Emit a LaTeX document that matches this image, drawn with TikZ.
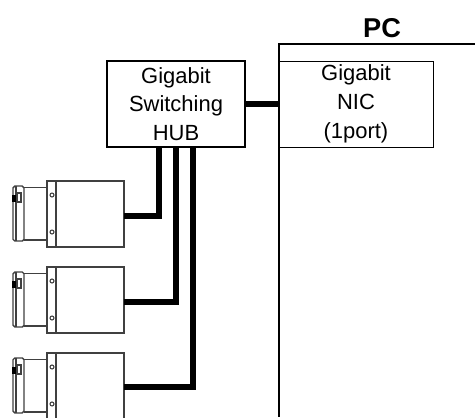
\documentclass[tikz,border=0pt]{standalone}
\usepackage{fontspec}
\setmainfont{Liberation Sans}
\usetikzlibrary{positioning}
\tikzset{font={\fontsize{12.5}{16.4}\selectfont}}
\tikzset{
	boxnode/.style={rectangle, draw, align=center, outer sep=0pt, minimum width=2.76cm, minimum height=1.72cm, inner sep=0pt},
	camnode/.style={rectangle, draw=black!75, line width=0.8pt, outer sep=0pt, minimum width=1.54cm, minimum height=1.32cm},
	cable/.style={line width=3.4pt, miter limit=10},
	outline/.style={line width=0.8pt}
}

\begin{document}
\begin{tikzpicture}[x=0.02cm, y=-0.02cm]

	\useasboundingbox (0,0) rectangle (475,417);
	\clip (0,0) rectangle (475,417);

	\node (hub) [boxnode, line width=0.8pt] at (176,104) {Gigabit\\Switching\\HUB};
	\node (nic) [boxnode, line width=0.45pt, minimum width=3.08cm, right=0.68cm of hub] {Gigabit\\NIC\\(1port)};

	\node (pc_label) [font={\fontsize{15.5}{16}\selectfont\bfseries}] at (382,28) {PC};

	% PC frame, open at the right and at the bottom
	\draw[outline] (475,44) -- (279,44) coordinate (pc_corner) -- (279,417) coordinate (pc_btm);

	\node (cam1) [camnode] at (85.5,214) {};
	\node (cam2) [camnode, below=0.4cm of cam1] {};
	\node (cam3) [camnode, below=0.4cm of cam2] {};

	\foreach \i in {1,2,3} {
		\begin{scope}[shift={(cam\i.north west)}, draw=black!75, line width=0.8pt]
			\draw (9,0) -- (9,66);
			\draw[line width=0.6pt, fill=white] (5,14) circle (2);
			\draw[line width=0.6pt, fill=white] (5,51) circle (2);
			% lens
			\draw (0,6.5) -- (-23,6.5);
			\draw (0,59) -- (-23,59);
			\draw[fill=white, rounded corners=1pt] (-34,5) rectangle (-23,60);
			\draw (-31,5) -- (-31,60);
			\fill[black] (-35,14) rectangle (-30,21);
			\draw[line width=0.6pt, fill=white] (-30,12) rectangle (-26,21);
		\end{scope}
	}

	\draw[cable] (hub.east) -- (hub.east -| nic.west);
	\draw[cable] ([yshift=-0.04cm]cam1.east) -| ([xshift=-0.34cm]hub.south);
	\draw[cable] ([yshift=-0.04cm]cam2.east) -| (hub.south);
	\draw[cable] ([yshift=-0.02cm]cam3.east) -| ([xshift=0.34cm]hub.south);

\end{tikzpicture}
\end{document}
